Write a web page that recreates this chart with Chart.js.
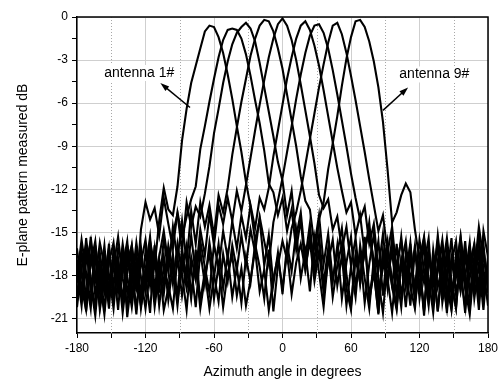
<!DOCTYPE html>
<html>
<head>
<meta charset="utf-8">
<script src="https://cdn.jsdelivr.net/npm/chart.js@4/dist/chart.umd.min.js"></script>
<style>
  body { margin: 0; background: #fff; }
  #wrap { width: 502px; height: 382px; }
</style>
</head>
<body>
<div id="wrap"><canvas id="patternChart" width="502" height="382"></canvas></div>
<script>
// azimuth samples, 4 degree step
const angles = [
  -180, -176, -172, -168, -164, -160, -156, -152, -148, -144,
  -140, -136, -132, -128, -124, -120, -116, -112, -108, -104,
  -100, -96, -92, -88, -84, -80, -76, -72, -68, -64,
  -60, -56, -52, -48, -44, -40, -36, -32, -28, -24,
  -20, -16, -12, -8, -4, 0, 4, 8, 12, 16,
  20, 24, 28, 32, 36, 40, 44, 48, 52, 56,
  60, 64, 68, 72, 76, 80, 84, 88, 92, 96,
  100, 104, 108, 112, 116, 120, 124, 128, 132, 136,
  140, 144, 148, 152, 156, 160, 164, 168, 172, 176,
  180
];

const ant1 = [
  -18.5, -16.2, -19.8, -15.3, -17.9, -20.1, -16.8, -18.9, -17.2, -20.4,
  -16.5, -19.2, -17.6, -20.7, -16.9, -18.3, -15.6, -17.4, -14.2, -11.9,
  -13.4, -13.8, -11.8, -8.6, -6.4, -4.6, -3.4, -2.2, -1.0, -0.6,
  -0.7, -1.4, -2.5, -4.0, -5.7, -7.6, -9.4, -11.5, -13.2, -15.6,
  -14.1, -17.3, -15.2, -18.6, -16.4, -19.3, -15.8, -17.7, -14.9, -18.2,
  -16.3, -19.1, -15.4, -17.8, -20.2, -16.7, -18.4, -15.9, -19.6, -17.1,
  -15.3, -18.8, -16.4, -19.9, -17.2, -15.1, -18.3, -20.6, -16.9, -18.7,
  -15.8, -19.4, -17.3, -20.1, -16.2, -18.9, -15.7, -19.8, -17.4, -20.5,
  -16.6, -18.2, -15.4, -19.3, -17.8, -20.2, -16.1, -18.6, -15.2, -19.1,
  -17.4
];
const ant2 = [
  -17.2, -19.6, -15.4, -18.3, -20.2, -16.4, -18.9, -15.8, -19.7, -17.3,
  -20.6, -17.9, -15.9, -19.1, -14.8, -12.9, -14.1, -13.3, -15.2, -12.6,
  -14.4, -16.1, -13.6, -15.3, -13.9, -12.7, -11.8, -9.2, -7.6, -5.9,
  -4.3, -2.8, -1.6, -0.9, -0.8, -0.9, -1.5, -2.6, -4.1, -5.8,
  -7.4, -9.3, -11.6, -12.2, -13.8, -12.6, -14.9, -13.4, -16.2, -14.1,
  -17.5, -15.6, -18.4, -16.3, -19.2, -17.1, -15.5, -18.7, -16.6, -20.1,
  -17.4, -19.5, -15.9, -18.2, -20.3, -16.8, -19.1, -17.5, -15.6, -18.8,
  -20.4, -16.9, -18.1, -15.7, -19.4, -17.2, -20.8, -16.3, -18.6, -15.8,
  -19.9, -17.7, -20.3, -16.4, -18.5, -15.6, -19.2, -17.1, -20.4, -16.2,
  -18.6
];
const ant3 = [
  -19.4, -16.6, -18.2, -20.3, -15.9, -18.4, -20.7, -17.1, -15.7, -18.6,
  -16.2, -20.9, -18.1, -16.4, -19.3, -17.6, -15.3, -18.9, -16.7, -14.9,
  -17.2, -15.1, -13.7, -16.3, -12.9, -14.6, -13.2, -13.9, -12.3, -10.4,
  -8.1, -6.4, -4.6, -3.1, -1.9, -1.1, -0.7, -0.4, -0.8, -1.7,
  -3.2, -4.9, -6.6, -8.3, -10.1, -11.4, -13.8, -12.1, -15.3, -13.6,
  -16.8, -14.4, -17.9, -15.2, -18.6, -16.1, -19.5, -17.3, -15.8, -18.9,
  -20.4, -16.5, -18.2, -15.4, -19.7, -17.8, -20.6, -16.3, -18.4, -15.9,
  -19.3, -17.1, -20.2, -16.8, -18.9, -15.5, -17.6, -20.1, -16.2, -18.8,
  -17.3, -20.6, -16.9, -18.1, -15.3, -17.9, -20.3, -16.6, -18.7, -15.8,
  -19.2
];
const ant4 = [
  -16.1, -18.8, -20.4, -17.2, -15.6, -19.1, -17.5, -20.3, -16.2, -18.4,
  -15.8, -18.1, -20.2, -17.4, -19.6, -16.3, -18.7, -16.1, -19.2, -15.4,
  -17.8, -14.6, -16.9, -14.2, -17.1, -13.5, -15.8, -12.9, -14.6, -13.1,
  -15.2, -12.4, -13.6, -11.9, -9.6, -7.7, -5.9, -4.3, -2.7, -1.5,
  -0.6, -0.2, -0.3, -1.0, -2.2, -3.6, -5.4, -7.2, -9.0, -11.1,
  -12.8, -13.4, -15.9, -13.8, -17.2, -15.1, -18.3, -16.4, -14.7, -17.9,
  -20.1, -16.8, -18.5, -15.3, -19.4, -17.6, -20.7, -16.4, -18.9, -15.2,
  -17.8, -20.2, -16.5, -18.3, -15.9, -19.6, -17.2, -15.4, -19.8, -17.6,
  -15.5, -18.7, -20.4, -17.3, -19.1, -16.8, -18.2, -15.9, -19.7, -17.5,
  -20.1
];
const ant5 = [
  -20.2, -17.4, -15.8, -18.9, -16.5, -20.4, -18.2, -16.1, -19.5, -17.7,
  -19.8, -16.3, -18.5, -15.7, -18.1, -20.3, -17.6, -19.4, -16.8, -18.6,
  -15.9, -17.7, -19.2, -16.1, -18.4, -15.2, -17.9, -14.8, -16.6, -13.7,
  -15.9, -13.1, -14.4, -12.6, -14.2, -12.1, -13.5, -11.7, -9.8, -7.9,
  -6.1, -4.4, -2.8, -1.5, -0.5, -0.1, -0.6, -1.6, -3.0, -4.7,
  -6.5, -8.3, -10.2, -12.4, -13.3, -12.7, -14.8, -13.9, -16.2, -14.6,
  -17.3, -15.4, -18.6, -16.2, -14.9, -17.5, -19.8, -16.4, -18.2, -20.6,
  -17.1, -15.6, -18.7, -16.3, -19.9, -17.4, -20.5, -16.8, -18.3, -15.6,
  -19.2, -16.9, -18.6, -20.3, -16.4, -18.1, -15.7, -19.6, -17.2, -20.4,
  -16.6
];
const ant6 = [
  -18.1, -15.5, -17.8, -19.9, -16.7, -18.5, -15.9, -19.6, -17.4, -15.3,
  -18.2, -20.1, -16.6, -18.8, -16.0, -19.1, -16.9, -20.2, -17.7, -19.3,
  -16.4, -18.6, -15.8, -17.9, -20.4, -16.7, -18.3, -15.6, -17.4, -19.2,
  -15.8, -17.5, -14.9, -16.8, -14.2, -16.1, -13.8, -15.4, -13.1, -14.7,
  -12.6, -13.4, -11.9, -9.7, -7.9, -6.1, -4.3, -2.8, -1.5, -0.6,
  -0.3, -0.9, -2.0, -3.4, -5.1, -6.9, -8.7, -10.5, -12.1, -13.6,
  -12.9, -15.2, -13.8, -16.5, -14.3, -17.7, -15.6, -19.4, -16.1, -18.3,
  -20.2, -16.9, -18.7, -15.8, -19.5, -17.3, -15.4, -18.2, -20.6, -17.1,
  -18.9, -16.2, -19.4, -17.6, -15.3, -18.8, -20.7, -17.3, -15.4, -18.5,
  -19.7
];
const ant7 = [
  -16.9, -19.3, -17.1, -15.6, -19.4, -17.2, -20.5, -16.4, -18.7, -16.1,
  -17.4, -15.6, -19.4, -16.9, -20.3, -17.9, -20.6, -15.9, -18.3, -16.6,
  -19.7, -17.3, -20.1, -16.8, -18.9, -17.4, -20.2, -16.3, -18.6, -15.7,
  -17.9, -19.8, -16.5, -18.4, -15.9, -17.6, -15.2, -17.3, -14.8, -16.4,
  -13.9, -15.6, -17.2, -14.3, -12.8, -11.2, -9.4, -7.6, -5.7, -4.0,
  -2.5, -1.3, -0.6, -0.5, -1.1, -2.2, -3.7, -5.4, -7.2, -9.0,
  -10.9, -12.6, -14.1, -13.2, -15.8, -14.4, -17.6, -15.1, -18.2, -16.3,
  -19.4, -17.2, -15.6, -18.8, -20.3, -16.7, -18.5, -16.1, -19.7, -17.4,
  -15.9, -19.6, -17.1, -15.6, -18.9, -16.3, -19.2, -17.8, -14.6, -16.8,
  -18.4
];
const ant8 = [
  -19.8, -17.6, -20.5, -16.8, -18.3, -15.7, -17.3, -19.4, -16.3, -19.2,
  -17.8, -15.9, -17.2, -20.4, -17.1, -15.5, -18.2, -16.6, -20.1, -17.4,
  -18.7, -20.3, -16.7, -19.4, -17.2, -19.6, -16.2, -19.8, -17.7, -20.3,
  -18.1, -15.8, -18.9, -16.6, -19.5, -17.4, -19.9, -16.7, -18.5, -15.8,
  -17.4, -19.6, -16.2, -20.5, -17.3, -15.6, -16.9, -14.7, -13.6, -12.1,
  -10.3, -8.5, -6.7, -4.9, -3.3, -1.8, -0.6, -0.4, -1.2, -2.5,
  -4.1, -5.8, -7.6, -9.4, -11.3, -13.1, -14.9, -13.8, -16.4, -14.6,
  -17.9, -15.3, -18.6, -16.7, -19.3, -17.2, -20.4, -16.6, -18.4, -15.2,
  -18.1, -20.3, -16.8, -19.1, -17.5, -20.6, -16.9, -18.6, -16.3, -19.5,
  -17.3
];
const ant9 = [
  -17.7, -20.1, -16.3, -18.6, -20.8, -17.3, -19.2, -17.9, -20.3, -16.8,
  -19.6, -17.2, -15.9, -18.3, -20.1, -18.4, -16.2, -19.5, -17.1, -20.4,
  -18.9, -16.5, -19.7, -17.6, -15.9, -19.3, -17.1, -20.3, -18.1, -16.4,
  -19.6, -17.3, -20.2, -17.8, -16.6, -19.4, -17.5, -20.1, -18.3, -16.2,
  -19.1, -17.6, -20.4, -18.2, -16.7, -18.9, -16.4, -19.3, -17.1, -15.8,
  -17.6, -15.2, -16.9, -14.1, -12.9, -10.6, -8.8, -6.9, -4.8, -2.9,
  -1.4, -0.3, -0.2, -0.7, -1.7, -3.1, -4.9, -7.3, -10.6, -14.3,
  -13.6, -12.4, -11.6, -12.2, -14.8, -16.9, -15.3, -19.2, -16.8, -20.5,
  -17.6, -15.4, -18.3, -20.2, -16.6, -18.9, -17.2, -15.8, -19.4, -14.9,
  -16.7
];

const xTicks = [-180, -150, -120, -90, -60, -30, 0, 30, 60, 90, 120, 150, 180];
const yTicks = [-21, -19.5, -18, -16.5, -15, -13.5, -12, -10.5, -9, -7.5, -6, -4.5, -3, -1.5, 0];
const minorX = [-150, -90, -30, 30, 90, 150];

const notes = [
  { text: 'antenna 1#', at: [-125.5, -3.9], from: [-81, -6.3], to: [-107, -4.6] },
  { text: 'antenna 9#', at: [133, -4.0], from: [88, -6.5], to: [110, -4.9] }
];

const series = [ant1, ant2, ant3, ant4, ant5, ant6, ant7, ant8, ant9];

const decor = {
  id: 'decor',
  beforeDatasetsDraw(chart) {
    const { ctx, chartArea: a, scales: { x } } = chart;
    ctx.save();
    ctx.strokeStyle = '#a8a8a8';
    ctx.lineWidth = 1;
    ctx.setLineDash([1, 2]);
    minorX.forEach(v => {
      const px = Math.round(x.getPixelForValue(v)) + 0.5;
      ctx.beginPath();
      ctx.moveTo(px, a.top);
      ctx.lineTo(px, a.bottom);
      ctx.stroke();
    });
    ctx.restore();
  },
  afterDatasetsDraw(chart) {
    const { ctx, chartArea: a, scales: { x, y } } = chart;
    ctx.save();
    // top and right frame
    ctx.strokeStyle = '#000';
    ctx.lineWidth = 1.5;
    ctx.beginPath();
    ctx.moveTo(a.left, a.top);
    ctx.lineTo(a.right, a.top);
    ctx.lineTo(a.right, a.bottom);
    ctx.stroke();

    ctx.font = '14px "Liberation Sans", Arial, sans-serif';
    ctx.textAlign = 'center';
    ctx.textBaseline = 'middle';
    notes.forEach(n => {
      const x0 = x.getPixelForValue(n.from[0]), y0 = y.getPixelForValue(n.from[1]);
      const x1 = x.getPixelForValue(n.to[0]), y1 = y.getPixelForValue(n.to[1]);
      const ang = Math.atan2(y1 - y0, x1 - x0);
      ctx.fillStyle = '#fff';
      const w = ctx.measureText(n.text).width;
      const tx = x.getPixelForValue(n.at[0]), ty = y.getPixelForValue(n.at[1]);
      ctx.fillRect(tx - w / 2 - 1, ty - 8, w + 2, 16);
      ctx.fillStyle = '#000';
      ctx.fillText(n.text, tx, ty);
      ctx.lineWidth = 1.5;
      ctx.beginPath();
      ctx.moveTo(x0, y0);
      ctx.lineTo(x1 - 6 * Math.cos(ang), y1 - 6 * Math.sin(ang));
      ctx.stroke();
      ctx.beginPath();
      ctx.moveTo(x1, y1);
      ctx.lineTo(x1 - 9 * Math.cos(ang) + 3 * Math.sin(ang), y1 - 9 * Math.sin(ang) - 3 * Math.cos(ang));
      ctx.lineTo(x1 - 9 * Math.cos(ang) - 3 * Math.sin(ang), y1 - 9 * Math.sin(ang) + 3 * Math.cos(ang));
      ctx.closePath();
      ctx.fill();
    });
    ctx.restore();
  }
};

const font = { family: '"Liberation Sans", Arial, sans-serif', size: 12 };

new Chart(document.getElementById('patternChart'), {
  type: 'line',
  data: {
    datasets: series.map((s, k) => ({
      label: 'antenna ' + (k + 1) + '#',
      data: angles.map((a, i) => ({ x: a, y: s[i] })),
      borderColor: '#000',
      borderWidth: 2.1,
      pointRadius: 0,
      tension: 0,
      fill: false
    }))
  },
  options: {
    responsive: false,
    animation: false,
    layout: { padding: { left: 0, right: 14, top: 17, bottom: 0 } },
    plugins: {
      legend: { display: false },
      tooltip: { enabled: false }
    },
    scales: {
      x: {
        type: 'linear',
        min: -180,
        max: 180,
        afterBuildTicks: s => { s.ticks = xTicks.map(v => ({ value: v })); },
        afterFit: s => { s.height = 49; },
        ticks: {
          color: '#000',
          font: font,
          padding: 3,
          maxRotation: 0,
          autoSkip: false,
          callback: v => (v % 60 === 0 ? String(v) : '')
        },
        grid: {
          color: c => (c.tick && c.tick.value % 60 === 0 ? '#cfcfcf' : 'rgba(0,0,0,0)'),
          lineWidth: 1,
          tickColor: '#000',
          tickLength: 5
        },
        border: { color: '#000', width: 1.5 },
        title: {
          display: true,
          text: 'Azimuth angle in degrees',
          color: '#000',
          font: { family: font.family, size: 14 },
          padding: { top: 0, bottom: 1 }
        }
      },
      y: {
        min: -22,
        max: 0,
        afterBuildTicks: s => { s.ticks = yTicks.map(v => ({ value: v })); },
        afterFit: s => { s.width = 77; },
        ticks: {
          color: '#000',
          font: font,
          padding: 4,
          autoSkip: false,
          callback: v => (v % 3 === 0 ? String(v === 0 ? 0 : v) : '')
        },
        grid: {
          color: c => (c.tick && c.tick.value % 3 === 0 ? '#cfcfcf' : 'rgba(0,0,0,0)'),
          lineWidth: 1,
          tickColor: '#000',
          tickLength: 5
        },
        border: { color: '#000', width: 1.5 },
        title: {
          display: true,
          text: 'E-plane pattern measured dB',
          color: '#000',
          font: { family: font.family, size: 14 },
          padding: { top: 15, bottom: 0 }
        }
      }
    }
  },
  plugins: [decor]
});
</script>
</body>
</html>
